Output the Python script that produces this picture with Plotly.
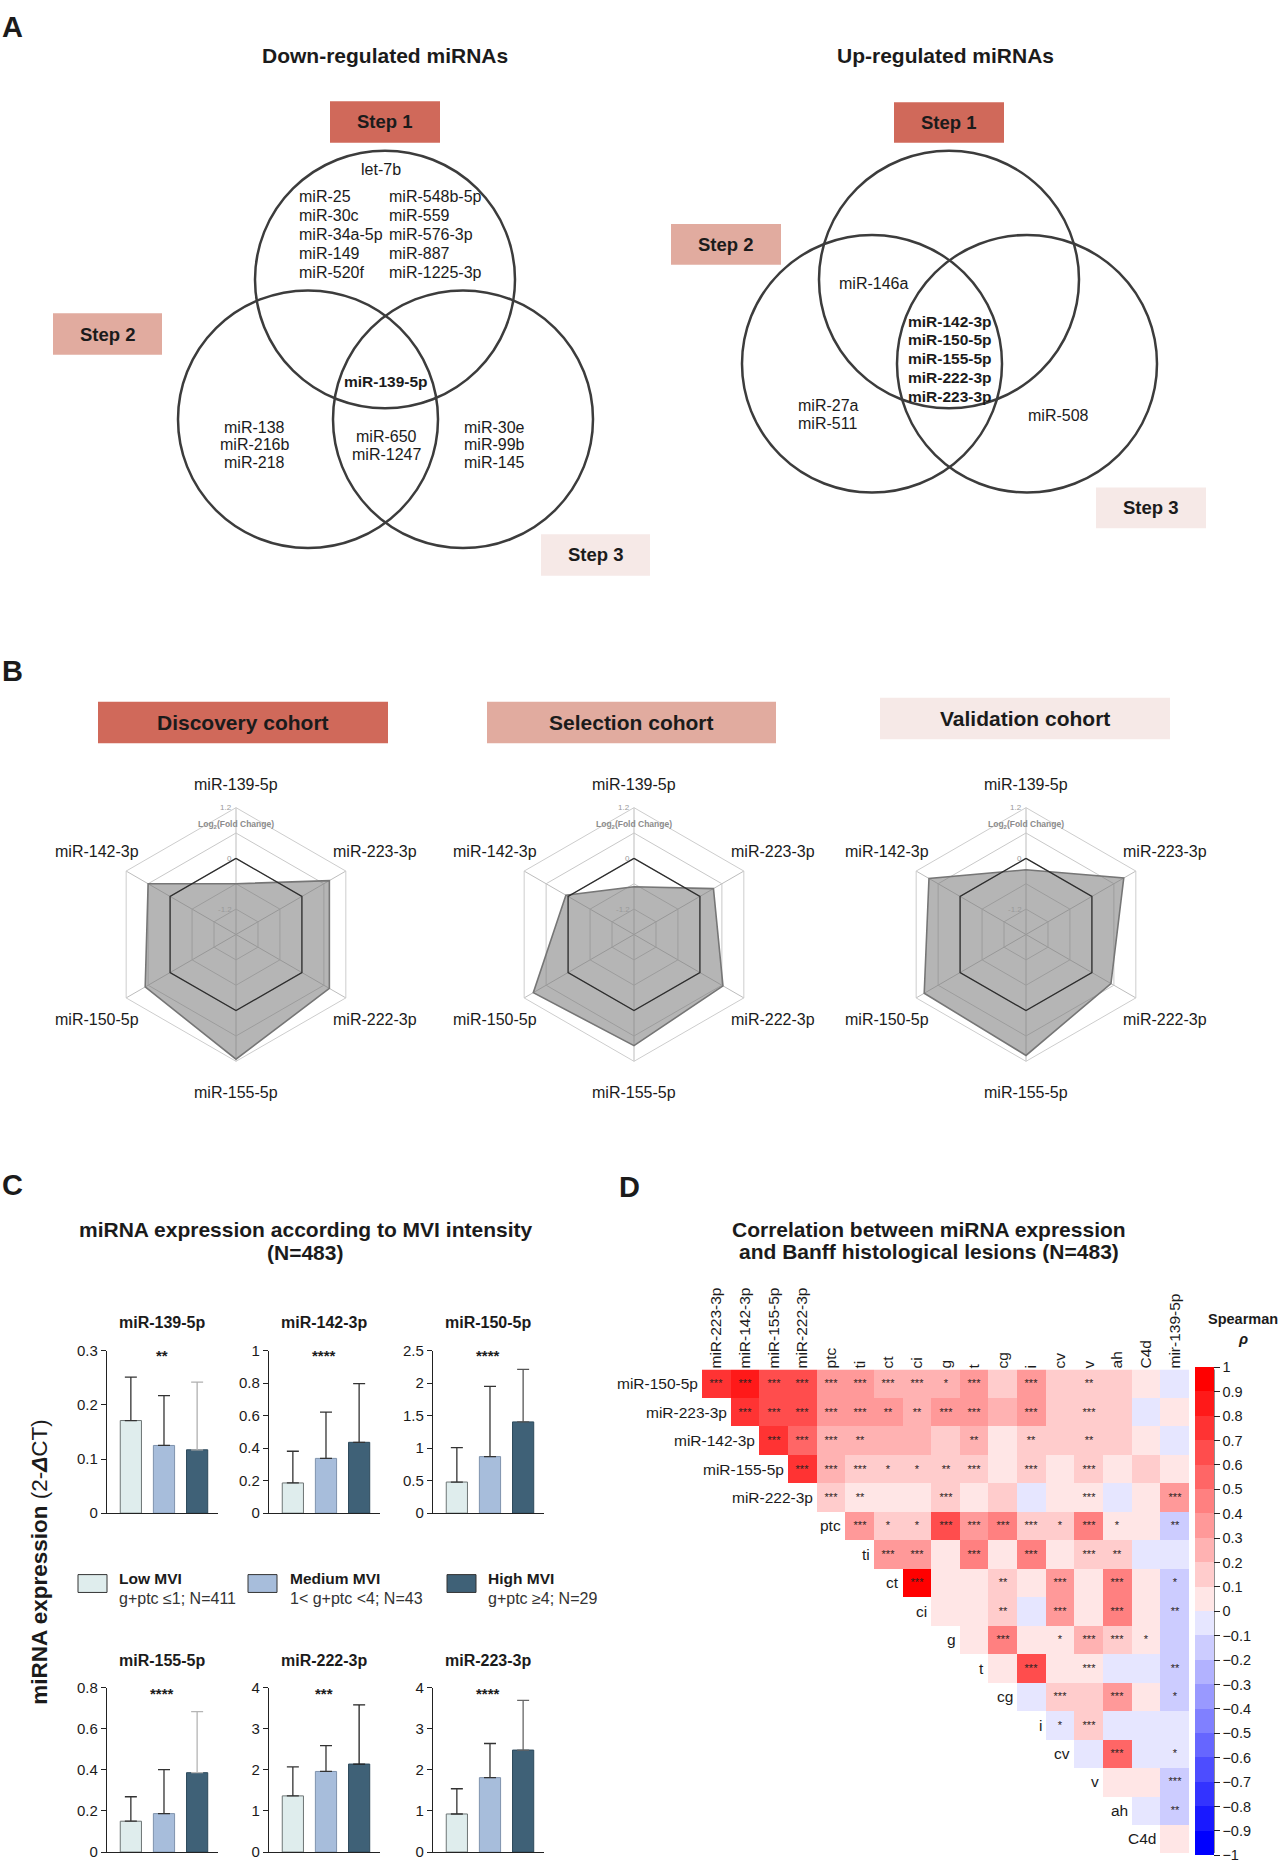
import math
import plotly.graph_objects as go

W, H = 1281, 1866
FONT = "Liberation Sans, Arial, Helvetica, sans-serif"
INK = "#1b1b1b"


def px(x):
    return x / W


def py(y):
    return 1 - y / H


# ======================= DATA =======================
# ---- Panel A (Venn diagrams) ----
down_title = "Down-regulated miRNAs"
up_title = "Up-regulated miRNAs"
step_names = ["Step 1", "Step 2", "Step 3"]
down_step1_head = ["let-7b"]
down_step1_col_a = ["miR-25", "miR-30c", "miR-34a-5p", "miR-149", "miR-520f"]
down_step1_col_b = ["miR-548b-5p", "miR-559", "miR-576-3p", "miR-887", "miR-1225-3p"]
down_all_steps = ["miR-139-5p"]
down_step2_only = ["miR-138", "miR-216b", "miR-218"]
down_step2_3 = ["miR-650", "miR-1247"]
down_step3_only = ["miR-30e", "miR-99b", "miR-145"]
up_step1_2 = ["miR-146a"]
up_all_steps = ["miR-142-3p", "miR-150-5p", "miR-155-5p", "miR-222-3p", "miR-223-3p"]
up_step2_only = ["miR-27a", "miR-511"]
up_step3_only = ["miR-508"]

# ---- Panel B (radar charts, log2 fold change) ----
cohort_names = ["Discovery cohort", "Selection cohort", "Validation cohort"]
radar_mirnas = ["miR-139-5p", "miR-223-3p", "miR-222-3p", "miR-155-5p", "miR-150-5p", "miR-142-3p"]
discovery_log2fc = [-0.60, 0.75, 0.75, 1.15, 0.68, 0.60]
selection_log2fc = [-0.67, 0.37, 0.63, 0.83, 0.95, 0.06]
validation_log2fc = [-0.27, 0.87, 0.52, 1.06, 0.98, 0.85]
zero_reference = [0, 0, 0, 0, 0, 0]
radial_range = [-1.8, 1.2]
radial_gridvals = [-1.2, -0.6, 0, 0.6, 1.2]
radial_labelvals = [1.2, 0, -1.2]

# ---- Panel C (bar charts) ----
c_mirnas = ["miR-139-5p", "miR-142-3p", "miR-150-5p", "miR-155-5p", "miR-222-3p", "miR-223-3p"]
mvi_groups = ["Low MVI", "Medium MVI", "High MVI"]
mvi_desc = ["g+ptc \u22641; N=411", "1< g+ptc <4; N=43", "g+ptc \u22654; N=29"]
low_mean = [0.171, 0.186, 0.479, 0.150, 1.366, 0.926]
low_sd = [0.080, 0.195, 0.528, 0.119, 0.704, 0.614]
med_mean = [0.125, 0.337, 0.870, 0.187, 1.960, 1.810]
med_sd = [0.092, 0.285, 1.082, 0.214, 0.630, 0.830]
high_mean = [0.117, 0.436, 1.404, 0.386, 2.140, 2.480]
high_sd = [0.125, 0.361, 0.808, 0.297, 1.440, 1.210]
c_signif = ["**", "****", "****", "****", "***", "****"]
c_ymax = [0.3, 1, 2.5, 0.8, 4, 4]
c_dtick = [0.1, 0.2, 0.5, 0.2, 1, 1]

# ---- Panel D (Spearman correlation heatmap) ----
hm_vars = ["miR-150-5p", "miR-223-3p", "miR-142-3p", "miR-155-5p", "miR-222-3p",
           "ptc", "ti", "ct", "ci", "g", "t", "cg", "i", "cv", "v", "ah", "C4d", "mir-139-5p"]
# each row r holds rho for columns r..16 (upper triangle)
rho_rows = [
    [0.75, 0.85, 0.68, 0.62, 0.38, 0.37, 0.28, 0.27, 0.25, 0.32, 0.15, 0.32, 0.18, 0.18, 0.18, 0.05, -0.05],
    [0.78, 0.65, 0.62, 0.35, 0.35, 0.35, 0.28, 0.32, 0.32, 0.28, 0.32, 0.18, 0.18, 0.18, -0.05, 0.05],
    [0.72, 0.58, 0.30, 0.28, 0.25, 0.25, 0.12, 0.28, 0.05, 0.18, 0.18, 0.18, 0.18, 0.05, -0.05],
    [0.75, 0.30, 0.15, 0.15, 0.15, 0.15, 0.18, 0.05, 0.18, 0.05, 0.18, 0.05, 0.18, 0.05],
    [0.18, 0.05, 0.05, 0.05, 0.18, 0.05, 0.15, -0.05, 0.05, 0.05, -0.05, 0.05, 0.32],
    [0.32, 0.15, 0.15, 0.62, 0.32, 0.45, 0.18, 0.18, 0.40, 0.05, 0.05, -0.15],
    [0.32, 0.32, 0.05, 0.45, 0.05, 0.45, 0.05, 0.15, 0.15, -0.05, -0.05],
    [0.95, 0.05, 0.05, 0.15, 0.05, 0.35, 0.05, 0.45, 0.05, -0.15],
    [0.05, 0.05, 0.15, -0.05, 0.35, 0.05, 0.45, 0.05, -0.15],
    [0.05, 0.45, 0.05, 0.05, 0.25, 0.15, 0.05, -0.15],
    [0.05, 0.65, 0.05, 0.05, -0.05, -0.05, -0.15],
    [-0.05, 0.15, 0.15, 0.35, 0.05, -0.15],
    [-0.05, 0.15, -0.05, -0.05, -0.05],
    [-0.05, 0.50, -0.05, -0.05],
    [0.05, 0.05, -0.15],
    [-0.05, -0.15],
    [0.05],
]
sig_rows = [
    ["***", "***", "***", "***", "***", "***", "***", "***", "*", "***", "", "***", "", "**", "", "", ""],
    ["***", "***", "***", "***", "***", "**", "**", "***", "***", "", "***", "", "***", "", "", ""],
    ["***", "***", "***", "**", "", "", "", "**", "", "**", "", "**", "", "", ""],
    ["***", "***", "***", "*", "*", "**", "***", "", "***", "", "***", "", "", ""],
    ["***", "**", "", "", "***", "", "", "", "", "***", "", "", "***"],
    ["***", "*", "*", "***", "***", "***", "***", "*", "***", "*", "", "**"],
    ["***", "***", "", "***", "", "***", "", "***", "**", "", ""],
    ["***", "", "", "**", "", "***", "", "***", "", "*"],
    ["", "", "**", "", "***", "", "***", "", "**"],
    ["", "***", "", "*", "***", "***", "*", ""],
    ["", "***", "", "***", "", "", "**"],
    ["", "***", "", "***", "", "*"],
    ["*", "***", "", "", ""],
    ["", "***", "", "*"],
    ["", "", "***"],
    ["", "**"],
    [""],
]
cbar_vals = [1, 0.9, 0.8, 0.7, 0.6, 0.5, 0.4, 0.3, 0.2, 0.1, 0,
             -0.1, -0.2, -0.3, -0.4, -0.5, -0.6, -0.7, -0.8, -0.9, -1]

# ======================= STYLE / LAYOUT CONSTANTS =======================
STEP_COLORS = ["#d0695a", "#e1ab9f", "#f6e9e7"]
BAR_COLORS = ["#dfeded", "#a7bddb", "#3f6177"]
BAR_LINES = ["#6d7575", "#7f93ad", "#2d4a5c"]
HIGH_ERR_COLORS = ["#b0b0b0", "#333333", "#555555", "#b5b5b5", "#222222", "#666666"]

fig = go.Figure()
shapes = []
annots = []


def text(x, y, s, size=15.5, bold=False, anchor="center", color=INK, angle=0, yanchor="middle"):
    if bold:
        s = f"<b>{s}</b>"
    annots.append(dict(x=px(x), y=py(y), xref="paper", yref="paper", text=s, showarrow=False,
                       xanchor=anchor, yanchor=yanchor, textangle=angle,
                       font=dict(family=FONT, size=size, color=color)))


def rect(x0, y0, x1, y1, fill, line=None, lw=0):
    shapes.append(dict(type="rect", xref="paper", yref="paper", x0=px(x0), x1=px(x1),
                       y0=py(y1), y1=py(y0), fillcolor=fill,
                       line=dict(width=lw, color=line or fill), layer="below"))


def circle(cx, cy, r):
    shapes.append(dict(type="circle", xref="paper", yref="paper", x0=px(cx - r), x1=px(cx + r),
                       y0=py(cy + r), y1=py(cy - r), line=dict(color="#3c3c3c", width=2.5),
                       fillcolor="rgba(0,0,0,0)", layer="above"))


def stack(names, x, y0, dy, anchor="center", bold=False, size=16):
    for i, nm in enumerate(names):
        text(x, y0 + i * dy, nm, size=size, bold=bold, anchor=anchor)


# panel letters
text(0, 18, "A", size=29, bold=True, anchor="left")
text(0, 668, "B", size=29, bold=True, anchor="left")
text(0, 1187, "C", size=29, bold=True, anchor="left")
text(617, 1189, "D", size=29, bold=True, anchor="left")

# ======================= PANEL A =======================
R_V = 130
AY = -7  # vertical offset for panel A
# left Venn (down-regulated)
text(385, 54 + AY, down_title, size=21, bold=True)
for (cx, cy) in [(385, 280), (308, 421), (463, 421)]:
    circle(cx, cy + AY, R_V)
for (box, name, col) in zip([(330, 100, 440, 142), (53, 314, 162, 356), (541, 537, 650, 579)],
                            step_names, STEP_COLORS):
    rect(box[0], box[1] + AY, box[2], box[3] + AY, col)
    text((box[0] + box[2]) / 2, (box[1] + box[3]) / 2 + AY, name, size=18.5, bold=True)
stack(down_step1_head, 381, 169 + AY, 19)
stack(down_step1_col_a, 297, 196 + AY, 19.2, anchor="left")
stack(down_step1_col_b, 387, 196 + AY, 19.2, anchor="left")
stack(down_all_steps, 386, 383 + AY, 19, bold=True, size=15.5)
stack(down_step2_only, 254, 429 + AY, 18)
stack(down_step2_3, 386, 438 + AY, 18.5)
stack(down_step3_only, 494, 429 + AY, 18)

# right Venn (up-regulated)
text(945, 54 + AY, up_title, size=21, bold=True)
for (cx, cy) in [(949, 280), (872, 365), (1027, 365)]:
    circle(cx, cy + AY, R_V)
for (box, name, col) in zip([(894, 101, 1004, 142), (671, 224, 781, 265), (1096, 490, 1206, 531)],
                            step_names, STEP_COLORS):
    rect(box[0], box[1] + AY, box[2], box[3] + AY, col)
    text((box[0] + box[2]) / 2, (box[1] + box[3]) / 2 + AY, name, size=18.5, bold=True)
stack(up_step1_2, 873, 284 + AY, 19)
stack(up_all_steps, 950, 322 + AY, 18.9, bold=True, size=15.5)
stack(up_step2_only, 796, 407 + AY, 18.5, anchor="left")
stack(up_step3_only, 1058, 417 + AY, 19)

# ======================= PANEL B =======================
radar_cx = [236, 634, 1026]
radar_cy = 934
R_R = 128
LAB_RX = 160
LAB_DY = [-151, -84, 86, 159, 86, -84]   # label offsets per spoke (layout)
cohort_boxes = [(98, 699, 388, 741), (487, 699, 776, 741), (880, 695, 1170, 737)]
cohort_values = [discovery_log2fc, selection_log2fc, validation_log2fc]
nax = len(radar_mirnas)
for k in range(3):
    box = cohort_boxes[k]
    rect(*box, STEP_COLORS[k])
    text((box[0] + box[2]) / 2, (box[1] + box[3]) / 2, cohort_names[k], size=21, bold=True)
    pk = "polar" if k == 0 else f"polar{k + 1}"
    theta = radar_mirnas + radar_mirnas[:1]
    vals = cohort_values[k] + cohort_values[k][:1]
    fig.add_trace(go.Scatterpolar(
        r=vals, theta=theta, subplot=pk, mode="lines", fill="toself",
        fillcolor="rgba(120,120,120,0.55)", line=dict(color="#767676", width=1.6),
        showlegend=False, name=cohort_names[k]))
    fig.add_trace(go.Scatterpolar(
        r=zero_reference + zero_reference[:1], theta=theta, subplot=pk, mode="lines+markers",
        line=dict(color="#2e2e2e", width=1.3), marker=dict(size=4, color="#2e2e2e"),
        showlegend=False, hoverinfo="skip"))
    cx = radar_cx[k]
    fig.update_layout(**{pk: dict(
        domain=dict(x=[px(cx - R_R), px(cx + R_R)], y=[py(radar_cy + R_R), py(radar_cy - R_R)]),
        gridshape="linear", bgcolor="white",
        angularaxis=dict(direction="clockwise", rotation=90, type="category",
                         categoryorder="array", categoryarray=radar_mirnas,
                         showline=True, linecolor="#cdcdcd", linewidth=1,
                         gridcolor="#bdbdbd", ticks="", showticklabels=False),
        radialaxis=dict(range=radial_range, tickvals=radial_gridvals, angle=90,
                        showline=False, gridcolor="#c8c8c8", ticks="", showticklabels=False),
    )})
    # angular category labels around each radar
    for i, nm in enumerate(radar_mirnas):
        ang = math.radians(90 - 360 * i / nax)
        text(cx + LAB_RX * math.cos(ang), radar_cy + LAB_DY[i], nm, size=16)
    # radial value labels along the top spoke
    span = radial_range[1] - radial_range[0]
    for v in radial_labelvals:
        ry = radar_cy - R_R * (v - radial_range[0]) / span
        text(cx - 2, ry, f"{v:g}", size=8, color="#9a9a9a", anchor="right")
    text(cx, 823, "Log<sub>2</sub>(Fold Change)", size=8.5, bold=True, color="#8c8c8c")

# ======================= PANEL C =======================
CY = 7
text(305, 1225 + CY, "miRNA expression according to MVI intensity", size=21, bold=True)
text(305, 1248 + CY, "(N=483)", size=21, bold=True)
text(40, 1560 + CY, "<b>miRNA expression</b> (2-<b><i>\u0394</i></b>CT)", size=22.5, angle=-90)

col_left = [107, 269, 433]
row_top = [1347 + CY, 1687 + CY]
row_bot = [1511 + CY, 1853 + CY]
title_y = [1319 + CY, 1660 + CY]
star_y = [1352 + CY, 1693 + CY]
group_means = [low_mean, med_mean, high_mean]
group_sds = [low_sd, med_sd, high_sd]
for i, name in enumerate(c_mirnas):
    row, col = divmod(i, 3)
    ax = i + 1
    xa = "x" if ax == 1 else f"x{ax}"
    ya = "y" if ax == 1 else f"y{ax}"
    for g in range(3):
        ecol = HIGH_ERR_COLORS[i] if g == 2 else "#333333"
        fig.add_trace(go.Bar(
            x=[mvi_groups[g]], y=[group_means[g][i]], width=0.64,
            error_y=dict(type="data", array=[group_sds[g][i]], arrayminus=[0], symmetric=False,
                         color=ecol, thickness=1.3, width=6),
            marker=dict(color=BAR_COLORS[g], line=dict(color=BAR_LINES[g], width=1)),
            xaxis=xa, yaxis=ya, showlegend=False, name=mvi_groups[g]))
    x0 = col_left[col]
    fig.update_layout(**{
        ("xaxis" if ax == 1 else f"xaxis{ax}"): dict(
            domain=[px(x0), px(x0 + 111)], anchor=ya, type="category",
            categoryorder="array", categoryarray=mvi_groups, range=[-0.72, 2.63],
            showline=True, linecolor="#222", linewidth=1.2, showticklabels=False,
            ticks="", showgrid=False, zeroline=False),
        ("yaxis" if ax == 1 else f"yaxis{ax}"): dict(
            domain=[py(row_bot[row]), py(row_top[row])], anchor=xa, range=[0, c_ymax[i]],
            tick0=0, dtick=c_dtick[i], showline=True, linecolor="#222", linewidth=1.2,
            ticks="outside", ticklen=5, tickcolor="#222", showgrid=False, zeroline=False,
            tickfont=dict(family=FONT, size=15, color=INK)),
    })
    text(x0 + 55, title_y[row], name, size=16, bold=True)
    text(x0 + 55, star_y[row], c_signif[i], size=15, bold=True)

# legend (Panel C)
leg_box_x = [78, 248, 447]
leg_text_x = [117, 288, 486]
for g in range(3):
    rect(leg_box_x[g], 1573 + CY, leg_box_x[g] + 29, 1591 + CY, BAR_COLORS[g], line="#333", lw=1)
    text(leg_text_x[g], 1577 + CY, mvi_groups[g], size=15.5, bold=True, anchor="left")
    text(leg_text_x[g], 1597 + CY, mvi_desc[g], size=16, anchor="left", color="#333")

# ======================= PANEL D =======================
text(929, 1232, "Correlation between miRNA expression", size=21, bold=True)
text(929, 1254, "and Banff histological lesions (N=483)", size=21, bold=True)

hm_rows = hm_vars[:-1]
hm_cols = hm_vars[1:]
n = len(hm_rows)
z = [[None] * n for _ in range(n)]
stars = [[""] * n for _ in range(n)]
for r in range(n):
    for k, (v, s) in enumerate(zip(rho_rows[r], sig_rows[r])):
        z[r][r + k] = v
        stars[r][r + k] = s

cscale = []
for b in range(20):
    lo, hi = b / 20, (b + 1) / 20
    if b < 10:
        f = 1 - b / 10
        c = f"rgb({round(255 * (1 - f))},{round(255 * (1 - f))},255)"
    else:
        f = (b - 9) / 10
        c = f"rgb(255,{round(255 * (1 - f))},{round(255 * (1 - f))})"
    cscale += [[lo, c], [hi, c]]

HX0, HX1, HY0, HY1 = 702, 1189, 1373, 1861
fig.add_trace(go.Heatmap(
    z=z, x=hm_cols, y=hm_rows, text=stars, texttemplate="%{text}",
    textfont=dict(family=FONT, size=11, color="#2a2222"),
    zmin=-1, zmax=1, colorscale=cscale, xgap=0, ygap=0, hoverongaps=False,
    xaxis="x7", yaxis="y7",
    colorbar=dict(x=px(1195), xanchor="left", xpad=0, ypad=0,
                  y=py((HY0 + HY1) / 2), yanchor="middle",
                  len=HY1 - HY0, lenmode="pixels", thickness=19, thicknessmode="pixels",
                  tickvals=cbar_vals,
                  ticktext=[("\u2212" + f"{abs(v):g}") if v < 0 else f"{v:g}" for v in cbar_vals],
                  ticks="outside", ticklen=6, tickcolor="#222", outlinewidth=0,
                  tickfont=dict(family=FONT, size=14.5, color=INK)),
))
fig.update_layout(
    xaxis7=dict(domain=[px(HX0), px(HX1)], anchor="y7", side="top", type="category",
                range=[-0.5, n - 0.5], autorange=False,
                tickangle=-90, ticks="", showgrid=False, zeroline=False, showline=False,
                tickfont=dict(family=FONT, size=15.5, color=INK)),
    yaxis7=dict(domain=[py(HY1), py(HY0)], anchor="x7", type="category",
                range=[n - 0.5, -0.5], autorange=False,
                showticklabels=False, ticks="", showgrid=False, zeroline=False, showline=False),
)
for r, name in enumerate(hm_rows):
    annots.append(dict(x=r - 0.5, y=r, xref="x7", yref="y7", text=name, showarrow=False,
                       xanchor="right", yanchor="middle", xshift=-2,
                       font=dict(family=FONT, size=15.5, color=INK)))
shapes.append(dict(type="line", xref="paper", yref="paper", x0=px(1214), x1=px(1214),
                   y0=py(HY1), y1=py(HY0), line=dict(color="#222", width=1)))
text(1243, 1322, "Spearman", size=14.5, bold=True)
text(1243, 1342, "<i>\u03c1</i>", size=15, bold=True)

fig.update_layout(
    width=W, height=H, margin=dict(l=0, r=0, t=0, b=0),
    paper_bgcolor="white", plot_bgcolor="white", barmode="overlay",
    font=dict(family=FONT, color=INK), shapes=shapes, annotations=annots,
)
fig.write_html("out.html", config={"displayModeBar": False},
               post_script="document.body.style.margin='0px';")
